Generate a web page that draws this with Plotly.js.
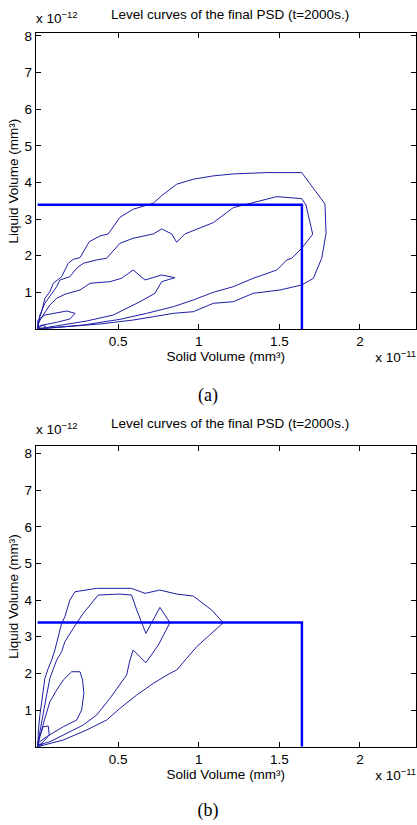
<!DOCTYPE html>
<html>
<head>
<meta charset="utf-8">
<script src="https://cdn.plot.ly/plotly-3.0.1.min.js"></script>
<style>html,body{margin:0;padding:0;background:#fff;}#chart{width:417px;height:825px;}</style>
</head>
<body>
<div id="chart"></div>
<script>
// Units: solid volume in 1e-11 mm^3, liquid volume in 1e-12 mm^3
// ---- Panel (a) level curves ----
const a1x = [0,0.014,0.025,0.045,0.076,0.097,0.149,0.19,0.221,0.263,0.32,0.387,0.438,0.511,0.593,0.718,0.77,0.863,0.966,1.09,1.214,1.421,1.639,1.783,1.79,1.763,1.711,1.639,1.504,1.338,1.214,1.09,0.966,0.842,0.718,0.593,0.387,0.18,0.035,0];
const a1y = [0,0.333,0.47,0.836,1.016,1.246,1.426,1.792,1.9,1.945,2.38,2.538,2.593,3.049,3.268,3.432,3.639,3.951,4.087,4.178,4.232,4.268,4.268,3.413,2.612,1.929,1.383,1.199,1.063,0.973,0.743,0.699,0.47,0.426,0.333,0.243,0.134,0.06,0,0];
const a2x = [0,0.014,0.045,0.087,0.118,0.138,0.2,0.242,0.283,0.366,0.428,0.511,0.593,0.718,0.77,0.832,0.863,0.914,0.987,1.09,1.214,1.338,1.484,1.639,1.665,1.707,1.639,1.577,1.546,1.484,1.338,1.214,1.09,0.966,0.842,0.677,0.511,0.283,0.035,0];
const a2y = [0,0.38,0.7,0.973,1.153,1.336,1.426,1.656,1.792,1.883,1.929,2.339,2.475,2.593,2.73,2.593,2.366,2.593,2.721,2.902,3.311,3.448,3.612,3.557,3.385,2.585,2.202,1.929,1.883,1.609,1.383,1.153,1.0,0.79,0.607,0.426,0.262,0.107,0.011,0];
const a3x = [0,0.004,0.035,0.076,0.118,0.169,0.263,0.325,0.449,0.521,0.593,0.666,0.77,0.852,0.77,0.728,0.635,0.469,0.304,0.159,0.035,0];
const a3y = [0,0.153,0.38,0.653,0.836,0.945,1.063,1.246,1.29,1.383,1.609,1.336,1.473,1.399,1.29,0.973,0.743,0.38,0.216,0.107,0.033,0];
const a4x = [0,0.002,0.045,0.107,0.18,0.232,0.2,0.118,0.035,0];
const a4y = [0,0.243,0.38,0.426,0.489,0.426,0.27,0.18,0.107,0];
const a5x = [0,0.01,0.03,0.05,0.035,0];
const a5y = [0,0.08,0.11,0.07,0.02,0];
// ---- Panel (b) level curves ----
const b1x = [0,0.003,0.004,0.014,0.031,0.045,0.066,0.087,0.107,0.128,0.149,0.169,0.2,0.232,0.366,0.583,0.666,0.759,0.863,0.966,1.08,1.152,1.08,0.987,0.925,0.863,0.821,0.718,0.615,0.511,0.428,0.304,0.159,0.035,0];
const b1y = [0,0.09,0.409,0.864,1.41,1.865,2.138,2.364,2.637,3.0,3.365,3.545,4.0,4.227,4.32,4.32,4.183,4.273,4.164,4.11,3.728,3.382,3.092,2.727,2.411,2.092,2.002,1.729,1.41,1.047,0.728,0.455,0.183,0.046,0];
const b2x = [0,0.0,0.014,0.035,0.056,0.076,0.097,0.118,0.149,0.169,0.221,0.283,0.376,0.511,0.583,0.615,0.672,0.759,0.821,0.749,0.672,0.593,0.573,0.562,0.552,0.449,0.366,0.283,0.159,0.076,0.004,0];
const b2y = [0,0.093,0.409,0.864,1.41,1.865,2.138,2.364,2.591,2.863,3.229,3.638,4.137,4.164,4.137,3.728,3.092,3.801,3.382,2.773,2.291,2.637,2.364,2.092,1.955,1.32,0.864,0.592,0.319,0.136,0.046,0];
const b3x = [0,0.014,0.045,0.076,0.118,0.159,0.211,0.263,0.279,0.287,0.273,0.242,0.159,0.056,0.002,0];
const b3y = [0,0.273,0.774,1.227,1.546,1.819,2.045,2.045,1.819,1.456,1.001,0.728,0.545,0.273,0.1,0];
const b4x = [0,0.01,0.035,0.066,0.072,0.035,0];
const b4y = [0,0.25,0.545,0.565,0.32,0.136,0];
const b5x = [0,0.01,0.03,0.01,0];
const b5y = [0,0.07,0.05,0.0,0];
// ---- Reference box (thick blue lines) ----
const boxX = [0,1.64,1.64];
const boxY = [3.39,3.39,0];
// ---- Ticks ----
const xTicks = [0.5,1,1.5,2];
const xTickText = ['0.5','1','1.5','2'];
const yTicks = [1,2,3,4,5,6,7,8];
const yTickText = ['1','2','3','4','5','6','7','8'];
// ---- Texts ----
const plotTitle = 'Level curves of the final PSD (t=2000s.)';
const yExpText = 'x 10<sup>−12</sup>';
const xExpText = 'x 10<sup>−11</sup>';
const panelLabels = ['(a)', '(b)'];

const contourColor = '#1e1ea6';
function curve(x, y, xa, ya) {
  return {x: x, y: y, xaxis: xa, yaxis: ya, type: 'scatter', mode: 'lines',
          line: {color: contourColor, width: 1}, hoverinfo: 'skip'};
}
function box(xa, ya) {
  return {x: boxX, y: boxY, xaxis: xa, yaxis: ya, type: 'scatter', mode: 'lines',
          line: {color: '#0000ff', width: 2.5}, hoverinfo: 'skip'};
}
const FS = 13.5;
const SANS = '"Liberation Sans", Arial, Helvetica, sans-serif';
const SERIF = '"Liberation Serif", "Times New Roman", serif';

// Text labels placed on a hidden full-page overlay axis (pixel units)
const labelTrace = {
  type: 'scatter', mode: 'text', xaxis: 'x3', yaxis: 'y3', hoverinfo: 'skip', cliponaxis: false,
  x: [36, 416, 230, 36, 416],
  y: [20, 359, 425, 431, 777],
  text: [yExpText, xExpText, plotTitle, yExpText, xExpText],
  textposition: ['middle right', 'middle left', 'middle center', 'middle right', 'middle left'],
  textfont: {family: SANS, size: FS, color: '#000'}
};
const panelTrace = {
  type: 'scatter', mode: 'text', xaxis: 'x3', yaxis: 'y3', hoverinfo: 'skip', cliponaxis: false,
  x: [208, 208], y: [396, 811], text: panelLabels, textposition: 'middle center',
  textfont: {family: SERIF, size: 18, color: '#000'}
};

const data = [
  curve(a1x,a1y,'x','y'), curve(a2x,a2y,'x','y'), curve(a3x,a3y,'x','y'),
  curve(a4x,a4y,'x','y'), curve(a5x,a5y,'x','y'), box('x','y'),
  curve(b1x,b1y,'x2','y2'), curve(b2x,b2y,'x2','y2'), curve(b3x,b3y,'x2','y2'),
  curve(b4x,b4y,'x2','y2'), curve(b5x,b5y,'x2','y2'), box('x2','y2'),
  labelTrace, panelTrace
];

function xax(anchor) {
  return {domain: [0.0856, 0.9976], range: [-0.012, 2.348], anchor: anchor,
    tickmode: 'array', tickvals: xTicks, ticktext: xTickText,
    ticks: 'inside', ticklen: 5, tickcolor: '#000', showline: true, mirror: 'ticks',
    linecolor: '#000', linewidth: 1, showgrid: false, zeroline: false,
    tickfont: {size: FS},
    title: {text: 'Solid Volume (mm³)', font: {size: FS}, standoff: 1}};
}
function yax(anchor, dom, top) {
  return {domain: dom, range: [0, top], anchor: anchor,
    tickmode: 'array', tickvals: yTicks, ticktext: yTickText,
    ticks: 'inside', ticklen: 5, tickcolor: '#000', showline: true, mirror: 'ticks',
    linecolor: '#000', linewidth: 1, showgrid: false, zeroline: false,
    tickfont: {size: FS},
    title: {text: 'Liquid Volume (mm³)', font: {size: FS}, standoff: 2}};
}

const layout = {
  width: 417, height: 825,
  margin: {l: 0, r: 0, t: 0, b: 0},
  paper_bgcolor: '#fff', plot_bgcolor: 'rgba(0,0,0,0)',
  showlegend: false,
  font: {family: SANS, size: FS, color: '#000'},
  title: {text: plotTitle, x: 230/417, xanchor: 'center', xref: 'paper',
          y: 1 - 14/825, yanchor: 'middle', yref: 'paper', font: {family: SANS, size: FS, color: '#000'}},
  xaxis: xax('y'),
  yaxis: yax('x', [0.6013, 0.9596], 8.07),
  xaxis2: xax('y2'),
  yaxis2: yax('x2', [0.0949, 0.4588], 8.19),
  xaxis3: {domain: [0, 1], range: [0, 417], anchor: 'y3', visible: false, fixedrange: true},
  yaxis3: {domain: [0, 1], range: [825, 0], anchor: 'x3', visible: false, fixedrange: true}
};
Plotly.newPlot('chart', data, layout, {displayModeBar: false, responsive: false});
</script>
</body>
</html>
